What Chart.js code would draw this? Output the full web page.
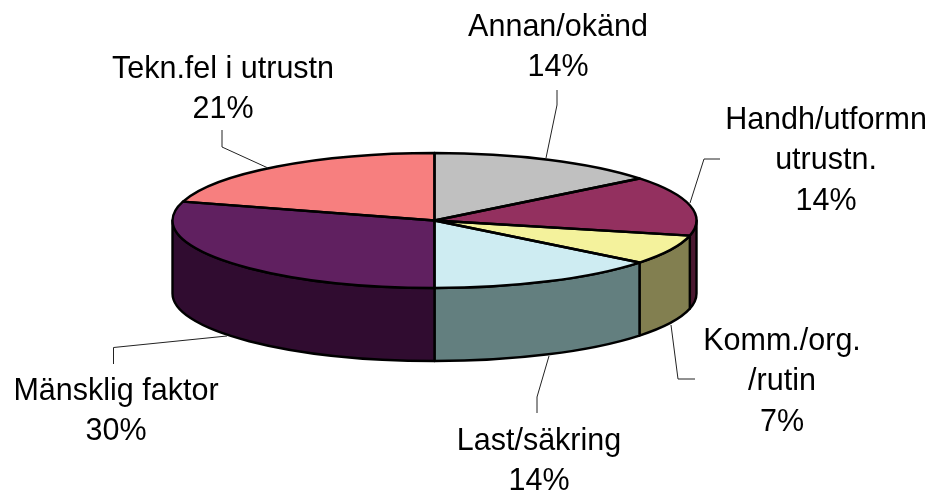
<!DOCTYPE html>
<html><head><meta charset="utf-8">
<style>html,body{margin:0;padding:0;background:#fff}canvas{display:block}</style>
<script src="https://cdn.jsdelivr.net/npm/chart.js@4"></script>
</head><body><canvas id="c" width="930" height="490"></canvas>
<script>
const categories = ['Annan/okänd','Handh/utformn utrustn.','Komm./org. /rutin','Last/säkring','Mänsklig faktor','Tekn.fel i utrustn'];
const values = [14.3,14.3,7.1,14.3,29.5,20.5];
const percentLabels = ['14%','14%','7%','14%','30%','21%'];
const topColors = ['#C0C0C0','#93305F','#F4F29C','#CEECF2','#602060','#F77F7F'];
const sideColors = ['#606060','#4A1830','#827F50','#637F7F','#300C30','#7C4040'];

// layout of the drawing (pixels)
const hub = {x:434.5, y:220.5, rx:262, ry:67.5, depth:73};
const labelLines = [['Annan/okänd'],['Handh/utformn','utrustn.'],['Komm./org.','/rutin'],['Last/säkring'],['Mänsklig faktor'],['Tekn.fel i utrustn']];
const labelAnchors = [[558,36],[826,129],[782,350],[539,450],[116,400],[223,78]];
const lineStep = 40.3;
const leaders = [
 [[546,158],[557,105],[557,90]],
 [[690,203],[704,159],[720,159]],
 [[671,325],[678,379],[695,379]],
 [[549,356],[537,397],[537,413]],
 [[227,336],[113.5,347.5],[113.5,364]],
 [[268,168],[222,147],[222,130]]
];

const pie3d = {
  id:'pie3d',
  beforeDatasetsDraw(chart){
    const ctx = chart.ctx, arcs = chart.getDatasetMeta(0).data;
    ctx.save();
    ctx.lineWidth = 2.4; ctx.strokeStyle = '#000'; ctx.lineJoin = 'round';
    arcs.forEach((el,i)=>{
      const a = Math.max(el.startAngle,0), b = Math.min(el.endAngle,Math.PI);
      if (a >= b) return;
      ctx.beginPath();
      ctx.ellipse(hub.x,hub.y,hub.rx,hub.ry,0,a,b);
      ctx.ellipse(hub.x,hub.y+hub.depth,hub.rx,hub.ry,0,b,a,true);
      ctx.closePath();
      ctx.fillStyle = sideColors[i];
      ctx.fill(); ctx.stroke();
    });
    ctx.restore();
    const R = arcs[0].outerRadius;
    ctx.save();
    ctx.translate(hub.x,hub.y);
    ctx.scale(hub.rx/R,hub.ry/R);
    ctx.translate(-arcs[0].x,-arcs[0].y);
  },
  afterDatasetsDraw(chart){
    const ctx = chart.ctx, arcs = chart.getDatasetMeta(0).data;
    ctx.restore();
    ctx.save();
    ctx.lineWidth = 2.4; ctx.strokeStyle = '#000'; ctx.lineJoin = 'round';
    arcs.forEach(el=>{
      ctx.beginPath();
      ctx.moveTo(hub.x,hub.y);
      ctx.ellipse(hub.x,hub.y,hub.rx,hub.ry,0,el.startAngle,el.endAngle);
      ctx.closePath();
      ctx.stroke();
    });
    ctx.lineWidth = 1; ctx.strokeStyle = '#222';
    leaders.forEach(pts=>{
      ctx.beginPath();
      pts.forEach((p,i)=> i ? ctx.lineTo(p[0],p[1]) : ctx.moveTo(p[0],p[1]));
      ctx.stroke();
    });
    ctx.fillStyle = '#000';
    ctx.font = '30.5px "Liberation Sans", Arial, sans-serif';
    ctx.textAlign = 'center'; ctx.textBaseline = 'alphabetic';
    labelLines.forEach((lines,i)=>{
      const [x,y] = labelAnchors[i];
      lines.concat(percentLabels[i]).forEach((t,k)=> ctx.fillText(t,x,y+k*lineStep));
    });
    ctx.restore();
  }
};

new Chart(document.getElementById('c'),{
  type:'pie',
  data:{labels:categories,datasets:[{data:values,backgroundColor:topColors,borderWidth:0,clip:false}]},
  options:{
    responsive:false,animation:false,
    layout:{padding:{left:0,right:62,top:0,bottom:48}},
    plugins:{legend:{display:false},tooltip:{enabled:false}}
  },
  plugins:[pie3d]
});
</script></body></html>
